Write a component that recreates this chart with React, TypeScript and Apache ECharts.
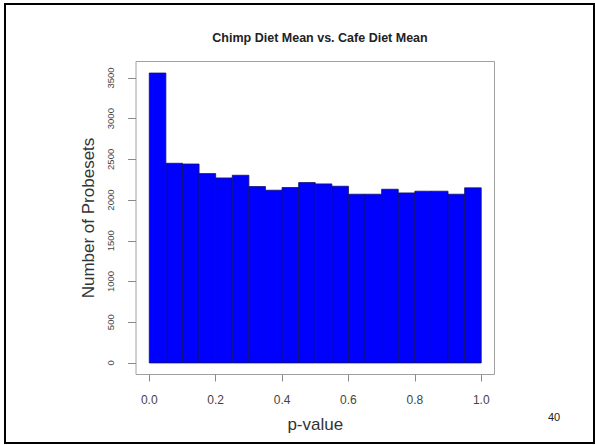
import React, { useEffect, useRef } from "react";
import * as echarts from "echarts";

const titleText = "Chimp Diet Mean vs. Cafe Diet Mean";
const xAxisName = "p-value";
const yAxisName = "Number of Probesets";
const pageNumber = "40";

const binStarts = [0, 0.05, 0.1, 0.15, 0.2, 0.25, 0.3, 0.35, 0.4, 0.45, 0.5, 0.55, 0.6, 0.65, 0.7, 0.75, 0.8, 0.85, 0.9, 0.95];
const binEnds = [0.05, 0.1, 0.15, 0.2, 0.25, 0.3, 0.35, 0.4, 0.45, 0.5, 0.55, 0.6, 0.65, 0.7, 0.75, 0.8, 0.85, 0.9, 0.95, 1.0];
const counts = [3560, 2452, 2443, 2325, 2272, 2305, 2166, 2121, 2154, 2215, 2199, 2170, 2072, 2072, 2133, 2088, 2109, 2109, 2072, 2150];

const xTicks = [0, 0.2, 0.4, 0.6, 0.8, 1.0];
const yTicks = [0, 500, 1000, 1500, 2000, 2500, 3000, 3500];

export default function App() {
  const ref = useRef<HTMLDivElement>(null);

  useEffect(() => {
    if (!ref.current) return;
    const chart = echarts.init(ref.current, null, { renderer: "svg" });
    const data = binStarts.map((s, i) => [s, binEnds[i], counts[i]]);
    const axisGrey = "#8a8a8a";
    const labelColor = "#444";
    chart.setOption({
      animation: false,
      backgroundColor: "#fff",
      title: {
        text: titleText,
        left: 315,
        top: 26,
        textAlign: "center",
        textStyle: {
          fontFamily: "Liberation Sans, Arial, sans-serif",
          fontSize: 12.5,
          fontWeight: "bold",
          color: "#222",
        },
      },
      grid: {
        left: 136,
        right: 100.5,
        top: 61.5,
        bottom: 70.5,
        show: true,
        borderColor: "#a0a0a0",
        borderWidth: 1,
        backgroundColor: "transparent",
      },
      xAxis: {
        type: "value",
        min: -0.04,
        max: 1.04,
        name: xAxisName,
        nameLocation: "middle",
        nameGap: 41,
        nameTextStyle: {
          fontFamily: "Liberation Sans, Arial, sans-serif",
          fontSize: 17,
          color: "#333",
        },
        axisLine: { show: false, onZero: false },
        splitLine: { show: false },
        axisTick: {
          show: true,
          customValues: xTicks,
          length: 7,
          lineStyle: { color: axisGrey, width: 1 },
        },
        axisLabel: {
          customValues: xTicks,
          margin: 19,
          formatter: (v: number) => v.toFixed(1),
          fontFamily: "Liberation Sans, Arial, sans-serif",
          fontSize: 12,
          lineHeight: 12,
          color: labelColor,
        },
      },
      yAxis: {
        type: "value",
        min: -142,
        max: 3702,
        name: yAxisName,
        nameLocation: "middle",
        nameGap: 39,
        nameTextStyle: {
          fontFamily: "Liberation Sans, Arial, sans-serif",
          fontSize: 17,
          color: "#333",
        },
        axisLine: { show: false, onZero: false },
        splitLine: { show: false },
        axisTick: {
          show: true,
          customValues: yTicks,
          length: 8,
          lineStyle: { color: axisGrey, width: 1 },
        },
        axisLabel: {
          customValues: yTicks,
          rotate: 90,
          margin: 21,
          formatter: (v: number) => String(v),
          fontFamily: "Liberation Sans, Arial, sans-serif",
          fontSize: 9.5,
          lineHeight: 10,
          color: labelColor,
        },
      },
      series: [
        {
          type: "custom",
          data,
          encode: { x: [0, 1], y: 2 },
          renderItem: (params: any, api: any) => {
            const p0 = api.coord([api.value(0), api.value(2)]);
            const p1 = api.coord([api.value(1), 0]);
            return {
              type: "rect",
              shape: { x: p0[0], y: p0[1], width: p1[0] - p0[0], height: p1[1] - p0[1] },
              style: { fill: "#0000ff", stroke: "#10106a", lineWidth: 0.8 },
            };
          },
        },
      ],
      graphic: [
        {
          type: "rect",
          shape: { x: 5, y: 4, width: 589, height: 439 },
          style: { fill: "none", stroke: "#000", lineWidth: 2 },
          silent: true,
        },
        {
          type: "text",
          x: 554,
          y: 417,
          style: {
            text: pageNumber,
            fontFamily: "Liberation Sans, Arial, sans-serif",
            fontSize: 11,
            fill: "#222",
            align: "center",
            verticalAlign: "middle",
          },
        },
      ],
    });
    return () => chart.dispose();
  }, []);

  return (
    <div style={{ position: "fixed", left: 0, top: 0, width: 595, height: 445, background: "#fff" }}>
      <div ref={ref} style={{ width: 595, height: 445 }} />
    </div>
  );
}
